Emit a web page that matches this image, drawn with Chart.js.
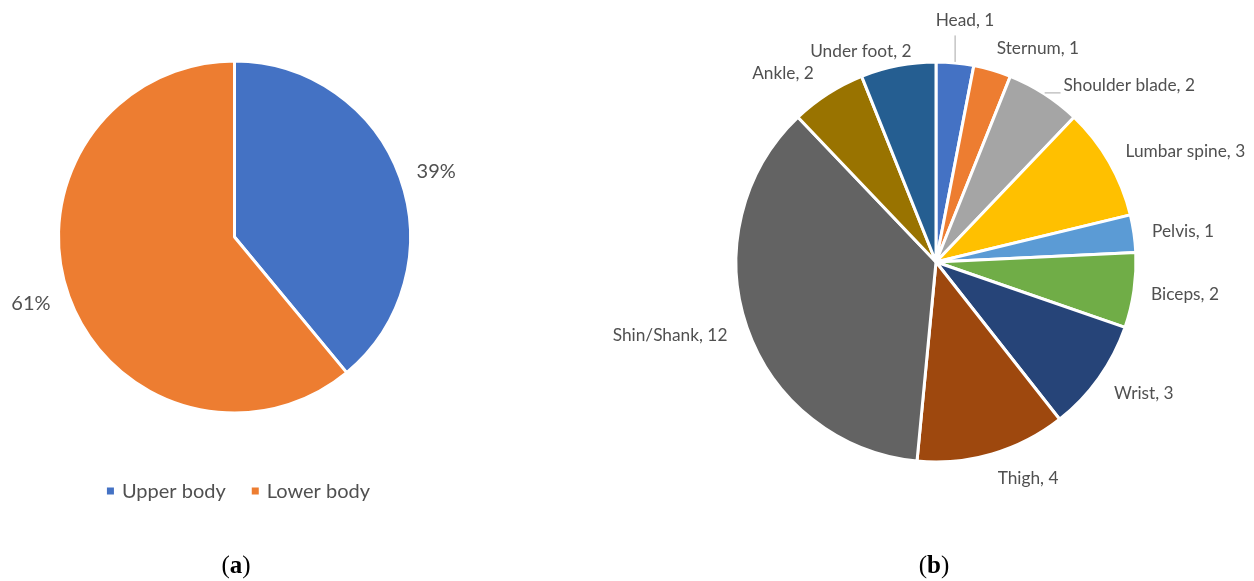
<!DOCTYPE html>
<html><head><meta charset="utf-8">
<script src="https://cdn.jsdelivr.net/npm/chart.js@4.4.1/dist/chart.umd.min.js"></script>
<style>
html,body{margin:0;padding:0;background:#fff;}
body{width:1254px;height:581px;position:relative;overflow:hidden;}
#wrapA{position:absolute;left:0;top:0;width:469px;height:581px;}
#wrapB{position:absolute;left:560px;top:0;width:694px;height:581px;}
.cap{position:absolute;top:550px;font-family:"Liberation Serif",serif;font-size:25px;line-height:30px;color:#000;transform:translateX(-50%);white-space:nowrap;}
</style></head><body>
<div id="wrapA"><canvas id="chartA" width="469" height="581"></canvas></div>
<div id="wrapB"><canvas id="chartB" width="694" height="581"></canvas></div>
<div class="cap" style="left:236px">(<b>a</b>)</div>
<div class="cap" style="left:934px">(<b>b</b>)</div>
<script>
// (a) share of sensor placements by body region, in percent
const regionLabels = ['Upper body', 'Lower body'];
const regionShares = [39, 61];
const regionColors = ['#4472C4', '#ED7D31'];

// (b) number of placements per body site
const siteLabels = ['Head', 'Sternum', 'Shoulder blade', 'Lumbar spine', 'Pelvis', 'Biceps',
                    'Wrist', 'Thigh', 'Shin/Shank', 'Ankle', 'Under foot'];
const siteCounts = [1, 1, 2, 3, 1, 2, 3, 4, 12, 2, 2];
const siteColors = ['#4472C4', '#ED7D31', '#A5A5A5', '#FFC000', '#5B9BD5', '#70AD47',
                    '#264478', '#9E480E', '#636363', '#997300', '#255E91'];

const TEXT = '#505050';
const FONT = 'Lato, "Open Sans", sans-serif';

// Draws a label outside each slice, optionally joined to the slice by a leader line.
const sliceLabels = {
  id: 'sliceLabels',
  afterDatasetsDraw(chart, args, o) {
    const ctx = chart.ctx;
    const meta = chart.getDatasetMeta(0);
    const ds = chart.data.datasets[0];
    ctx.save();
    ctx.font = o.size + 'px ' + FONT;
    ctx.fillStyle = TEXT;
    ctx.textAlign = 'center';
    ctx.textBaseline = 'alphabetic';
    meta.data.forEach((arc, i) => {
      const p = arc.getProps(['x', 'y', 'startAngle', 'endAngle', 'outerRadius'], true);
      const mid = (p.startAngle + p.endAngle) / 2;
      const [shiftDeg, dist] = o.place[i];
      const a = mid + shiftDeg * Math.PI / 180;
      const cx = p.x + dist * Math.cos(a);
      const cy = p.y + dist * Math.sin(a);
      const text = o.format(chart.data.labels[i], ds.data[i]);
      const w = ctx.measureText(text).width;
      const capH = o.size * 0.66;
      ctx.fillText(text, cx, cy + capH / 2);
      if (o.leaders && o.leaders.includes(i)) {
        const ex = p.x + (p.outerRadius + 1) * Math.cos(mid);
        const ey = p.y + (p.outerRadius + 1) * Math.sin(mid);
        const padX = 3, padY = 9;
        const lx = Math.min(Math.max(ex, cx - w / 2 - padX), cx + w / 2 + padX);
        const ly = Math.min(Math.max(ey, cy - capH / 2 - padY), cy + capH / 2 + padY);
        ctx.strokeStyle = '#A6A6A6';
        ctx.lineWidth = 1;
        ctx.beginPath();
        ctx.moveTo(ex, ey);
        ctx.lineTo(lx, ly);
        ctx.stroke();
      }
    });
    ctx.restore();
  }
};

// Legend row of small squares under the pie.
const squareLegend = {
  id: 'squareLegend',
  afterDraw(chart, args, o) {
    if (!o.show) return;
    const ctx = chart.ctx;
    const ds = chart.data.datasets[0];
    const arc = chart.getDatasetMeta(0).data[0];
    ctx.save();
    ctx.font = o.size + 'px ' + FONT;
    ctx.textBaseline = 'alphabetic';
    const box = 7, gapBox = 8, gapItem = 26;
    const widths = chart.data.labels.map(t => ctx.measureText(t).width);
    const total = widths.reduce((s, w) => s + box + gapBox + w, 0) + gapItem * (widths.length - 1);
    let x = arc.x - total / 2 + 4;
    const base = o.y + o.size * 0.33;
    chart.data.labels.forEach((t, i) => {
      ctx.fillStyle = ds.backgroundColor[i];
      ctx.fillRect(x, o.y - box / 2, box, box);
      x += box + gapBox;
      ctx.fillStyle = TEXT;
      ctx.fillText(t, x, base);
      x += widths[i] + gapItem;
    });
    ctx.restore();
  }
};

function pieChart(id, labels, values, colors, geom, labelOpts, legendOpts) {
  const c = document.getElementById(id);
  const W = c.width, H = c.height;
  const pad = {
    left: geom.cx - geom.r - 2,
    right: W - (geom.cx + geom.r + 2),
    top: geom.cy - geom.r - 2,
    bottom: H - (geom.cy + geom.r + 2)
  };
  return new Chart(c, {
    type: 'pie',
    data: {
      labels: labels,
      datasets: [{
        data: values,
        backgroundColor: colors,
        borderColor: '#FFFFFF',
        borderWidth: 3,
        radius: geom.r
      }]
    },
    options: {
      responsive: false,
      animation: false,
      rotation: 0,
      layout: { padding: pad },
      plugins: {
        legend: { display: false },
        tooltip: { enabled: false },
        sliceLabels: labelOpts,
        squareLegend: legendOpts
      }
    },
    plugins: [sliceLabels, squareLegend]
  });
}

pieChart('chartA', regionLabels, regionShares, regionColors,
  { cx: 234.5, cy: 237, r: 176 },
  {
    size: 20,
    format: (label, v) => v + '%',
    place: [[1.9, 212], [1.8, 214]]
  },
  { show: true, size: 20, y: 491 });

pieChart('chartB', siteLabels, siteCounts, siteColors,
  { cx: 376, cy: 262, r: 200 },
  {
    size: 17.3,
    format: (label, v) => label + ', ' + v,
    place: [[1.4, 243], [9.1, 237], [14.8, 262], [6.0, 273], [1.0, 249], [-0.9, 251],
            [-3.1, 246], [-6.7, 235], [3.6, 276], [-6.3, 243], [-8.7, 224]],
    leaders: [0, 2]
  },
  { show: false });
</script>
</body></html>
